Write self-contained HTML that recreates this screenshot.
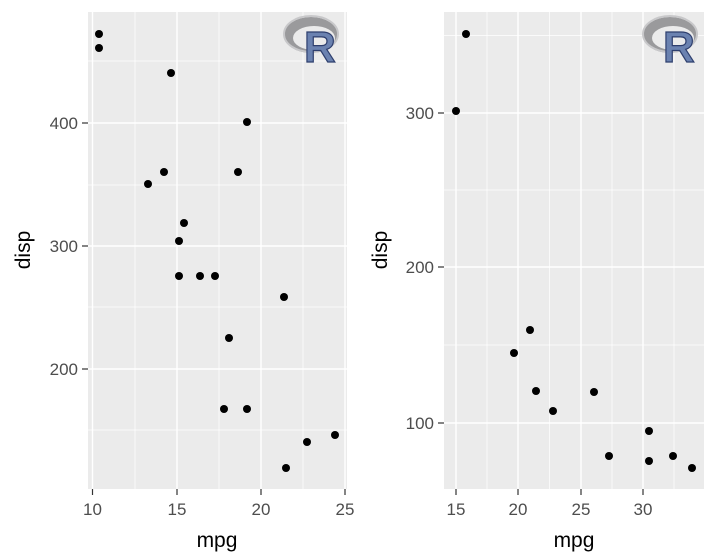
<!DOCTYPE html>
<html><head><style>body{margin:0;background:#fff}svg{display:block}text{font-family:"Liberation Sans",Arial,sans-serif}</style></head><body>
<svg width="716" height="560" xmlns="http://www.w3.org/2000/svg">
<defs>
<g id="rlogo">
<ellipse cx="0" cy="0" rx="27" ry="18" fill="#9a9a9c"/>
<ellipse cx="3" cy="3" rx="21" ry="12" fill="#ebebeb"/>
<ellipse cx="0" cy="-1" rx="27" ry="18" fill="none" stroke="#c8c8ca" stroke-width="2"/>
<text x="-7" y="27" font-size="44" font-weight="bold" fill="#6b82b0" stroke="#2e3f6e" stroke-width="1.2">R</text>
</g>
</defs>
<!-- LEFT PANEL -->
<rect x="88" y="12" width="259" height="477" fill="#ebebeb"/>
<g stroke="#fff" stroke-width="0.7">
<line x1="135" y1="12" x2="135" y2="489"/><line x1="219" y1="12" x2="219" y2="489"/><line x1="303" y1="12" x2="303" y2="489"/>
<line x1="88" y1="61" x2="347" y2="61"/><line x1="88" y1="185" x2="347" y2="185"/><line x1="88" y1="307" x2="347" y2="307"/><line x1="88" y1="430" x2="347" y2="430"/>
</g>
<g stroke="#fff" stroke-width="1.4">
<line x1="92.5" y1="12" x2="92.5" y2="489"/><line x1="177" y1="12" x2="177" y2="489"/><line x1="261" y1="12" x2="261" y2="489"/><line x1="345" y1="12" x2="345" y2="489"/>
<line x1="88" y1="123" x2="347" y2="123"/><line x1="88" y1="246" x2="347" y2="246"/><line x1="88" y1="369" x2="347" y2="369"/>
</g>
<use href="#rlogo" x="311" y="35"/>
<g fill="#000">
<circle cx="99" cy="34" r="4"/><circle cx="99" cy="48" r="4"/><circle cx="171" cy="73" r="4"/><circle cx="247" cy="122" r="4"/>
<circle cx="164" cy="172" r="4"/><circle cx="148" cy="184" r="4"/><circle cx="238" cy="172" r="4"/><circle cx="184" cy="223" r="4"/>
<circle cx="179" cy="241" r="4"/><circle cx="179" cy="276" r="4"/><circle cx="200" cy="276" r="4"/><circle cx="215" cy="276" r="4"/>
<circle cx="284" cy="297" r="4"/><circle cx="229" cy="338" r="4"/><circle cx="224" cy="409" r="4"/><circle cx="247" cy="409" r="4"/>
<circle cx="307" cy="442" r="4"/><circle cx="335" cy="435" r="4"/><circle cx="286" cy="468" r="4"/>
</g>
<g stroke="#333" stroke-width="1.2">
<line x1="82" y1="123" x2="88" y2="123"/><line x1="82" y1="246" x2="88" y2="246"/><line x1="82" y1="369" x2="88" y2="369"/>
<line x1="92.5" y1="489" x2="92.5" y2="495"/><line x1="177" y1="489" x2="177" y2="495"/><line x1="261" y1="489" x2="261" y2="495"/><line x1="345" y1="489" x2="345" y2="495"/>
</g>
<g fill="#4d4d4d" font-size="17" text-anchor="end">
<text x="78" y="129">400</text><text x="78" y="252">300</text><text x="78" y="375">200</text>
</g>
<g fill="#4d4d4d" font-size="17" text-anchor="middle">
<text x="92.5" y="515">10</text><text x="177" y="515">15</text><text x="261" y="515">20</text><text x="345" y="515">25</text>
</g>
<text x="217" y="547" font-size="21" text-anchor="middle" fill="#000">mpg</text>
<text transform="translate(30,250) rotate(-90)" font-size="21" text-anchor="middle" fill="#000">disp</text>

<!-- RIGHT PANEL -->
<rect x="444" y="12" width="260" height="477" fill="#ebebeb"/>
<g stroke="#fff" stroke-width="0.7">
<line x1="487" y1="12" x2="487" y2="489"/><line x1="549.5" y1="12" x2="549.5" y2="489"/><line x1="612" y1="12" x2="612" y2="489"/><line x1="674" y1="12" x2="674" y2="489"/>
<line x1="444" y1="35.5" x2="704" y2="35.5"/><line x1="444" y1="190" x2="704" y2="190"/><line x1="444" y1="345" x2="704" y2="345"/>
</g>
<g stroke="#fff" stroke-width="1.4">
<line x1="456" y1="12" x2="456" y2="489"/><line x1="518" y1="12" x2="518" y2="489"/><line x1="581" y1="12" x2="581" y2="489"/><line x1="643" y1="12" x2="643" y2="489"/>
<line x1="444" y1="113" x2="704" y2="113"/><line x1="444" y1="267" x2="704" y2="267"/><line x1="444" y1="423" x2="704" y2="423"/>
</g>
<use href="#rlogo" x="670" y="35"/>
<g fill="#000">
<circle cx="466" cy="34" r="4"/><circle cx="456" cy="111" r="4"/><circle cx="514" cy="353" r="4"/><circle cx="530" cy="330" r="4"/>
<circle cx="536" cy="391" r="4"/><circle cx="553" cy="411" r="4"/><circle cx="594" cy="392" r="4"/><circle cx="609" cy="456" r="4"/>
<circle cx="649" cy="431" r="4"/><circle cx="649" cy="461" r="4"/><circle cx="673" cy="456" r="4"/><circle cx="692" cy="468" r="4"/>
</g>
<g stroke="#333" stroke-width="1.2">
<line x1="438" y1="113" x2="444" y2="113"/><line x1="438" y1="267" x2="444" y2="267"/><line x1="438" y1="423" x2="444" y2="423"/>
<line x1="456" y1="489" x2="456" y2="495"/><line x1="518" y1="489" x2="518" y2="495"/><line x1="581" y1="489" x2="581" y2="495"/><line x1="643" y1="489" x2="643" y2="495"/>
</g>
<g fill="#4d4d4d" font-size="17" text-anchor="end">
<text x="434" y="119">300</text><text x="434" y="273">200</text><text x="434" y="429">100</text>
</g>
<g fill="#4d4d4d" font-size="17" text-anchor="middle">
<text x="456" y="515">15</text><text x="518" y="515">20</text><text x="581" y="515">25</text><text x="643" y="515">30</text>
</g>
<text x="574" y="547" font-size="21" text-anchor="middle" fill="#000">mpg</text>
<text transform="translate(387,250) rotate(-90)" font-size="21" text-anchor="middle" fill="#000">disp</text>
</svg>
</body></html>
